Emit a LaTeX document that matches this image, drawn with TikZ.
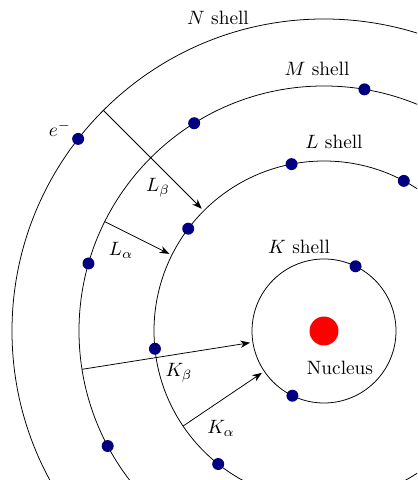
\documentclass[tikz,border=0pt]{standalone}
\usepackage{amsmath,amssymb}
\usetikzlibrary{arrows.meta}

\begin{document}
\begin{tikzpicture}[x=0.518pt, y=0.518pt,
    shell/.style={draw, thin},
    electron/.style={circle, fill=blue!50!black, inner sep=0pt, minimum size=6.2pt},
    trans/.style={-{Stealth[length=5pt, width=3.8pt]}, shorten >=1.5pt}]
    \useasboundingbox (-324,-149) rectangle (93,331);
    \clip (-324,-149) rectangle (93,331);
    % nucleus and shells
    \node[circle, fill=red, inner sep=0pt, minimum size=15pt] (nucleus) at (0,0) {};
    \draw[shell] (0,0) circle (72);
    \draw[shell] (0,0) circle (170);
    \draw[shell] (0,0) circle (245);
    \draw[shell] (0,0) circle (312);
    % electrons
    \foreach \a [count=\i] in {64,244} \node[electron] (k\i) at (\a:72) {};
    \foreach \a [count=\i] in {62,101,143,186,231.5} \node[electron] (l\i) at (\a:170) {};
    \foreach \a [count=\i] in {80.5,122,164,208} \node[electron] (m\i) at (\a:245) {};
    \node[electron] (n1) at (142:312) {};
    % transitions
    \coordinate (lb-start) at (135:312);
    \coordinate (lb-end) at (135:170);
    \coordinate (la-start) at (153.5:245);
    \coordinate (la-end) at (153.5:170);
    \coordinate (kb-start) at (189:245);
    \coordinate (kb-end) at (189:72);
    \coordinate (ka-start) at (214:170);
    \coordinate (ka-end) at (214:72);
    \draw[trans] (lb-start) -- (lb-end);
    \draw[trans] (la-start) -- (la-end);
    \draw[trans] (kb-start) -- (kb-end);
    \draw[trans] (ka-start) -- (ka-end);
    % labels
    \node (nlabel) at (-106,313) {$N$ shell};
    \node (mlabel) at (-7,262) {$M$ shell};
    \node (llabel) at (10,189) {$L$ shell};
    \node (klabel) at (-25,84) {$K$ shell};
    \node (nuclabel) at (16,-37) {Nucleus};
    \node (elabel) at (-264,202) {$e^-$};
    \node (lblabel) at (-166,143) {$L_\beta$};
    \node (lalabel) at (-203,81) {$L_\alpha$};
    \node (kblabel) at (-145,-42) {$K_\beta$};
    \node (kalabel) at (-103,-97) {$K_\alpha$};
  \end{tikzpicture}
\end{document}
